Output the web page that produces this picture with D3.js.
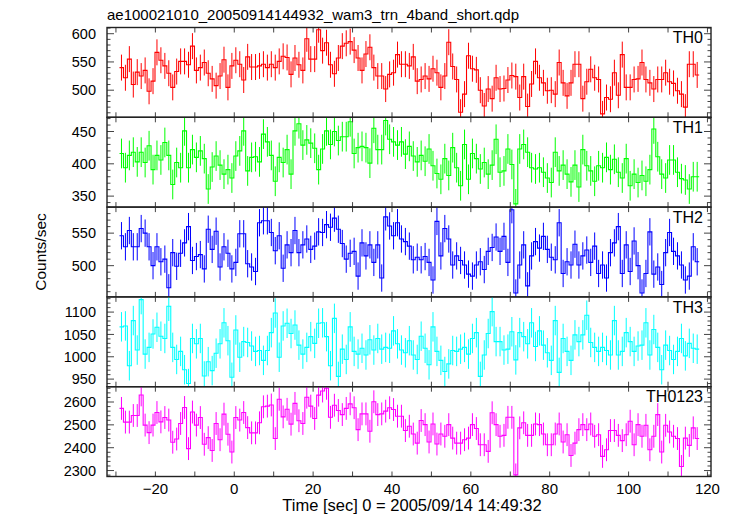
<!DOCTYPE html>
<html><head><meta charset="utf-8">
<script src="https://cdn.jsdelivr.net/npm/d3@7"></script>
<style>body{margin:0;background:#fff}svg{display:block}</style>
</head><body>
<svg id="c" width="734" height="516"></svg>
<script>
const titleText = "ae100021010_20050914144932_wam3_trn_4band_short.qdp";
const xTitle = "Time [sec] 0 = 2005/09/14 14:49:32";
const yTitle = "Counts/sec";
const panelNames = ["TH0","TH1","TH2","TH3","TH0123"];
const firstBinCenter = -28.6;
const binWidth = 1;

const th0 = [540,522,555,510,532,525,535,498,516,567,553,543,530,505,533,551,551,545,578,535,
540,549,530,520,508,525,554,505,543,553,546,518,559,541,541,543,546,540,546,540,
551,560,558,528,557,545,535,
591,555,555,607,570,584,545,529,557,578,583,586,571,557,535,564,576,540,525,525,502,528,531,
563,546,546,543,559,516,519,525,520,538,531,505,525,585,542,519,461,493,561,538,
536,500,472,502,485,522,502,503,518,526,524,487,524,471,511,551,522,513,
499,500,493,549,513,490,513,546,546,485,515,537,522,519,458,487,484,531,491,563,
505,505,519,520,549,519,513,502,519,519,531,515,512,499,493,470,546,546,527];

const th1 = [416,394,413,418,403,418,402,428,391,413,406,433,413,368,402,394,451,394,422,410,
420,408,361,395,412,398,384,391,378,412,420,451,389,410,411,403,446,434,413,373,
410,402,422,384,451,462,429,437,432,424,391,423,451,430,450,436,442,442,465,416,
425,427,425,401,455,422,422,467,438,434,429,434,415,427,412,403,413,404,423,397,
385,376,408,382,425,394,366,430,376,416,408,392,402,384,398,438,387,389,423,399,
338,423,430,418,394,392,394,387,378,371,418,389,398,384,372,398,364,422,397,389,
373,397,394,410,391,407,387,378,408,366,384,371,382,373,391,454,411,384,378,406,
406,387,377,375,361,380,380];

const th2 = [546,529,554,529,529,557,550,529,500,529,506,510,466,520,499,519,535,560,508,514,
517,495,556,525,553,498,529,519,495,505,549,549,503,498,491,566,569,569,551,523,
546,496,532,520,554,520,532,541,525,530,552,551,563,559,573,556,534,510,519,522,
484,535,515,532,505,532,481,575,561,546,566,541,537,530,509,513,509,514,505,478,
568,515,557,541,501,515,508,501,487,484,501,506,494,522,528,544,522,545,505,586,
458,501,532,469,515,537,527,545,525,513,509,566,488,506,501,533,501,515,524,505,
530,488,501,481,520,535,560,488,532,491,538,500,458,488,552,487,498,471,520,551,
522,515,501,478,484,529,506];

const th3 = [1067,1069,980,1081,1015,1128,1006,1021,1051,1066,1046,1041,1113,1021,994,1012,971,940,1041,1029,
1041,957,989,969,1008,1029,1076,1036,954,1060,999,1034,1032,1024,1012,1014,992,1014,1054,1098,
999,1069,1075,1052,1071,1026,1006,1021,1045,1030,1075,1076,1045,980,1086,956,1017,994,1067,1012,
1006,1019,1004,1038,1015,1041,1017,1021,1019,1058,1029,1015,1009,1036,1004,994,1046,1019,982,1067,
1012,992,967,984,1014,1012,1017,1021,1006,1041,1054,956,1004,1052,1101,1034,1034,1015,1017,1056,
993,1054,1045,1029,1076,1023,1058,1026,1009,992,1081,965,1041,1012,992,1049,1034,1049,1093,1032,
1021,1012,1021,1014,1004,1081,1004,1012,1054,1034,1012,1024,1026,1076,1004,1061,1021,971,1026,1014,
994,1012,1041,1002,1030,1019,1017];

const th0123 = [2572,2512,2512,2541,2541,2631,2499,2466,2499,2554,2513,2532,2521,2424,2438,2506,2576,2396,2556,2499,
2532,2415,2444,2388,2506,2435,2547,2459,2381,2532,2521,2554,2488,2465,2465,2509,2579,2582,2587,2440,
2612,2535,2568,2503,2594,2518,2506,2621,
2582,2528,2630,2648,2660,2533,2586,2563,2545,2572,2592,2575,2479,2548,2548,2472,2601,2545,2548,2560,
2575,2567,2538,2538,2475,2494,2460,2420,2519,2501,2425,2504,2416,2460,2450,2501,2442,2420,2420,2435,
2442,2501,2484,2413,2413,2384,2553,2501,2450,2454,2533,2533,2281,2487,2509,2454,2454,2504,2501,2460,
2413,2413,2460,2504,2425,2457,2366,2420,2479,2501,2479,2504,2450,2457,2362,2391,2475,2475,2454,2431,
2457,2516,2413,2501,2450,2498,2391,2450,2545,2381,2498,2469,2450,2440,2318,2442,2410,2487,2440];

const seriesErr = [23, 23, 21, 33, 50];
const yDomains = [[452,611],[333,472],[452,590],[933,1134],[2274,2667]];
const yMajorTicks = [[500,550,600],[350,400,450],[500,550],[950,1000,1050,1100],[2300,2400,2500,2600]];
const yMinorSteps = [10,10,10,10,20];
const xTickLabels = [-20,0,20,40,60,80,100,120];
const xMinorTicks = [-30,-20,-10,0,10,20,30,40,50,60,70,80,90,100,110,120];
const colors = ["#ff0000","#00ff00","#0000ff","#00ffff","#ff00ff"];

const allSeries = [th0, th1, th2, th3, th0123];

const svg = d3.select("#c");
const font = "'Liberation Sans', Arial, Helvetica, sans-serif";
const L = 107, R = 711, T = 27.5, B = 476.5;
const nP = allSeries.length;
const ph = (B - T) / nP;
const x = d3.scaleLinear().domain([-32.27, 120.9]).range([L, R]);

svg.append("text").attr("x", 107).attr("y", 19.5).attr("font-family", font)
  .attr("font-size", 15).attr("fill", "#000").text(titleText);

allSeries.forEach((vals, p) => {
  const top = T + p * ph, bot = top + ph;
  const y = d3.scaleLinear().domain(yDomains[p]).range([bot, top]);
  const g = svg.append("g");
  const cid = "clip" + p;
  svg.append("clipPath").attr("id", cid).append("rect")
    .attr("x", L).attr("y", top).attr("width", R - L).attr("height", ph);
  const dg = g.append("g").attr("clip-path", `url(#${cid})`);
  const e = seriesErr[p];
  dg.selectAll("line.err").data(vals).enter().append("line")
    .attr("x1", (v, i) => x(firstBinCenter + i * binWidth))
    .attr("x2", (v, i) => x(firstBinCenter + i * binWidth))
    .attr("y1", v => y(v - e)).attr("y2", v => y(v + e))
    .attr("stroke", colors[p]).attr("stroke-width", 1);
  const pts = [];
  vals.forEach((v, i) => {
    const c = firstBinCenter + i * binWidth;
    pts.push([x(c - binWidth / 2), y(v)]);
    pts.push([x(c + binWidth / 2), y(v)]);
  });
  dg.append("path").attr("d", d3.line()(pts)).attr("fill", "none")
    .attr("stroke", colors[p]).attr("stroke-width", 1.1);

  const tk = g.append("g").attr("stroke", "#444").attr("stroke-width", 1);
  const [d0, d1] = yDomains[p];
  const minor = d3.range(Math.ceil(d0 / yMinorSteps[p]) * yMinorSteps[p], d1 + 0.001, yMinorSteps[p]);
  minor.forEach(v => {
    const major = yMajorTicks[p].includes(v);
    const len = major ? 7 : 3.5;
    tk.append("line").attr("x1", L).attr("x2", L + len).attr("y1", y(v)).attr("y2", y(v));
    tk.append("line").attr("x1", R).attr("x2", R - len).attr("y1", y(v)).attr("y2", y(v));
  });
  xMinorTicks.forEach(t => {
    tk.append("line").attr("x1", x(t)).attr("x2", x(t)).attr("y1", bot).attr("y2", bot - 5);
    tk.append("line").attr("x1", x(t)).attr("x2", x(t)).attr("y1", top).attr("y2", top + 5);
  });
  g.selectAll("text.yl").data(yMajorTicks[p]).enter().append("text")
    .attr("x", 96).attr("y", v => y(v)).attr("dy", "0.36em")
    .attr("text-anchor", "end").attr("font-family", font).attr("font-size", 14.5)
    .attr("fill", "#000").text(v => v);
  g.append("rect").attr("x", L).attr("y", top).attr("width", R - L).attr("height", ph)
    .attr("fill", "none").attr("stroke", "#222").attr("stroke-width", 1.4);
  g.append("text").attr("x", 703).attr("y", top + 15.6).attr("text-anchor", "end")
    .attr("font-family", font).attr("font-size", 16).attr("fill", "#000").text(panelNames[p]);
});

svg.selectAll("text.xl").data(xTickLabels).enter().append("text")
  .attr("x", t => x(t)).attr("y", 493.5).attr("text-anchor", "middle")
  .attr("font-family", font).attr("font-size", 15).attr("fill", "#000")
  .text(t => t < 0 ? "\u2212" + Math.abs(t) : String(t));

svg.append("text").attr("x", 412).attr("y", 511).attr("text-anchor", "middle")
  .attr("font-family", font).attr("font-size", 16.5).attr("fill", "#000").text(xTitle);

svg.append("text").attr("transform", `translate(46,${(T + B) / 2}) rotate(-90)`)
  .attr("text-anchor", "middle").attr("font-family", font).attr("font-size", 15.5)
  .attr("fill", "#000").text(yTitle);
</script>
</body></html>
